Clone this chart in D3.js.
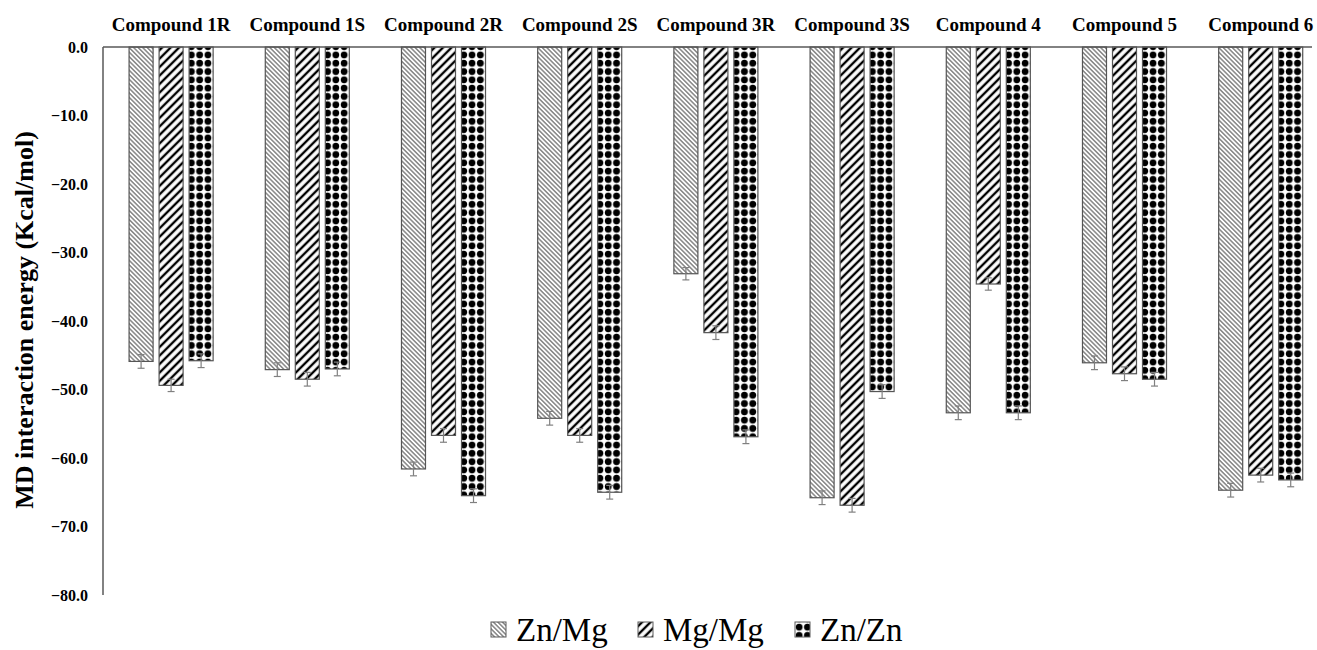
<!DOCTYPE html>
<html>
<head>
<meta charset="utf-8">
<script src="https://cdn.jsdelivr.net/npm/d3@7"></script>
<style>
  body { margin: 0; background: #fff; }
</style>
</head>
<body>
<div id="chart"></div>
<script>
// Data
const compounds = ["Compound 1R", "Compound 1S", "Compound 2R", "Compound 2S", "Compound 3R",
                   "Compound 3S", "Compound 4", "Compound 5", "Compound 6"];
const seriesNames = ["Zn/Mg", "Mg/Mg", "Zn/Zn"];
const znMg = [-45.9, -47.1, -61.6, -54.2, -33.1, -65.8, -53.4, -46.1, -64.7];
const mgMg = [-49.4, -48.5, -56.7, -56.7, -41.7, -66.9, -34.6, -47.7, -62.5];
const znZn = [-45.8, -47.0, -65.5, -65.0, -56.9, -50.3, -53.4, -48.5, -63.2];
const znMgErr = [1.0, 1.0, 1.0, 1.0, 0.9, 1.0, 1.0, 1.0, 1.0];
const mgMgErr = [0.9, 1.0, 1.0, 1.0, 1.0, 1.0, 0.9, 1.0, 1.0];
const znZnErr = [1.0, 1.0, 1.0, 1.0, 1.0, 1.0, 1.0, 1.0, 1.0];
const yTicks = [0, -10, -20, -30, -40, -50, -60, -70, -80];

const width = 1317, height = 650;
const margin = { top: 47, left: 103, bottom: 55 };
const plotRight = 1312;
const serif = "'Liberation Serif', 'DejaVu Serif', serif";

const svg = d3.select("#chart").append("svg")
  .attr("width", width)
  .attr("height", height)
  .style("display", "block");

// Patterns
const defs = svg.append("defs");

const p1 = defs.append("pattern")
  .attr("id", "pat-znmg")
  .attr("patternUnits", "userSpaceOnUse")
  .attr("width", 3.2).attr("height", 3.2)
  .attr("patternTransform", "rotate(-45)");
p1.append("rect").attr("width", 3.2).attr("height", 3.2).attr("fill", "#fff");
p1.append("line").attr("x1", 1.6).attr("x2", 1.6).attr("y1", 0).attr("y2", 3.2)
  .attr("stroke", "#333").attr("stroke-width", 0.9);

const p2 = defs.append("pattern")
  .attr("id", "pat-mgmg")
  .attr("patternUnits", "userSpaceOnUse")
  .attr("width", 6).attr("height", 6)
  .attr("patternTransform", "rotate(45)");
p2.append("rect").attr("width", 6).attr("height", 6).attr("fill", "#fff");
p2.append("line").attr("x1", 3).attr("x2", 3).attr("y1", 0).attr("y2", 6)
  .attr("stroke", "#000").attr("stroke-width", 2.4);

const p3 = defs.append("pattern")
  .attr("id", "pat-znzn")
  .attr("patternUnits", "userSpaceOnUse")
  .attr("width", 8.3).attr("height", 8.3)
  .attr("x", 0).attr("y", 1);
p3.append("rect").attr("width", 8.3).attr("height", 8.3).attr("fill", "#fff");
p3.append("circle").attr("cx", 4.15).attr("cy", 4.15).attr("r", 3.4)
  .attr("fill", "#000");

const fills = ["url(#pat-znmg)", "url(#pat-mgmg)", "url(#pat-znzn)"];

// Scales
const x0 = d3.scaleBand()
  .domain(compounds)
  .range([margin.left, margin.left + 9 * 136.2])
  .paddingInner(0.383)
  .paddingOuter(0.1915);

const x1 = d3.scaleBand()
  .domain(seriesNames)
  .range([0, x0.bandwidth()])
  .paddingInner(0.2);

const y = d3.scaleLinear()
  .domain([0, -80])
  .range([margin.top, height - margin.bottom]);

// Rows for bars
const rows = compounds.map((c, i) => ({
  name: c,
  values: [
    { s: "Zn/Mg", v: znMg[i], e: znMgErr[i], f: fills[0] },
    { s: "Mg/Mg", v: mgMg[i], e: mgMgErr[i], f: fills[1] },
    { s: "Zn/Zn", v: znZn[i], e: znZnErr[i], f: fills[2] }
  ]
}));

const groups = svg.append("g").selectAll("g")
  .data(rows)
  .join("g")
  .attr("transform", d => `translate(${x0(d.name)},0)`);

groups.selectAll("rect")
  .data(d => d.values)
  .join("rect")
  .attr("x", d => x1(d.s))
  .attr("y", y(0))
  .attr("width", x1.bandwidth())
  .attr("height", d => y(d.v) - y(0))
  .attr("fill", d => d.f)
  .attr("stroke", "#555")
  .attr("stroke-width", 1.2);

// Error bars
const err = groups.selectAll("g.err")
  .data(d => d.values)
  .join("g")
  .attr("class", "err")
  .attr("stroke", "#808080")
  .attr("stroke-width", 1.2);

err.append("line")
  .attr("x1", d => x1(d.s) + x1.bandwidth() / 2)
  .attr("x2", d => x1(d.s) + x1.bandwidth() / 2)
  .attr("y1", d => y(d.v + d.e))
  .attr("y2", d => y(d.v - d.e));
err.append("line")
  .attr("x1", d => x1(d.s) + x1.bandwidth() / 2 - 3.5)
  .attr("x2", d => x1(d.s) + x1.bandwidth() / 2 + 3.5)
  .attr("y1", d => y(d.v - d.e))
  .attr("y2", d => y(d.v - d.e));
err.append("line")
  .attr("x1", d => x1(d.s) + x1.bandwidth() / 2 - 3.5)
  .attr("x2", d => x1(d.s) + x1.bandwidth() / 2 + 3.5)
  .attr("y1", d => y(d.v + d.e))
  .attr("y2", d => y(d.v + d.e));

// Axis lines
svg.append("line")
  .attr("x1", margin.left).attr("x2", margin.left)
  .attr("y1", y(0)).attr("y2", y(-80))
  .attr("stroke", "#595959").attr("stroke-width", 1.5);
svg.append("line")
  .attr("x1", margin.left).attr("x2", plotRight)
  .attr("y1", y(0)).attr("y2", y(0))
  .attr("stroke", "#595959").attr("stroke-width", 1.5);

// Y tick labels
svg.append("g").selectAll("text")
  .data(yTicks)
  .join("text")
  .attr("x", 88)
  .attr("y", d => y(d))
  .attr("dy", "0.35em")
  .attr("text-anchor", "end")
  .style("font-family", serif)
  .style("font-size", "16px")
  .style("font-weight", "bold")
  .text(d => d3.format(".1f")(d));

// Category labels on top
svg.append("g").selectAll("text")
  .data(compounds)
  .join("text")
  .attr("x", d => x0(d) + x0.bandwidth() / 2)
  .attr("y", 31)
  .attr("text-anchor", "middle")
  .style("font-family", serif)
  .style("font-size", "19px")
  .style("font-weight", "bold")
  .text(d => d);

// Y axis title
svg.append("text")
  .attr("transform", `translate(33,${(130 + 510) / 2}) rotate(-90)`)
  .attr("text-anchor", "middle")
  .style("font-family", serif)
  .style("font-size", "26px")
  .style("font-weight", "bold")
  .text("MD interaction energy (Kcal/mol)");

// Legend
const legendX = [491, 638, 795];
const legend = svg.append("g").selectAll("g")
  .data(seriesNames)
  .join("g")
  .attr("transform", (d, i) => `translate(${legendX[i]},622)`);

legend.append("rect")
  .attr("width", 15).attr("height", 15)
  .attr("fill", (d, i) => fills[i])
  .attr("stroke", "#5a5a5a").attr("stroke-width", 1);

legend.append("text")
  .attr("x", 25)
  .attr("y", 19)
  .style("font-family", serif)
  .style("font-size", "33px")
  .text(d => d);
</script>
</body>
</html>
